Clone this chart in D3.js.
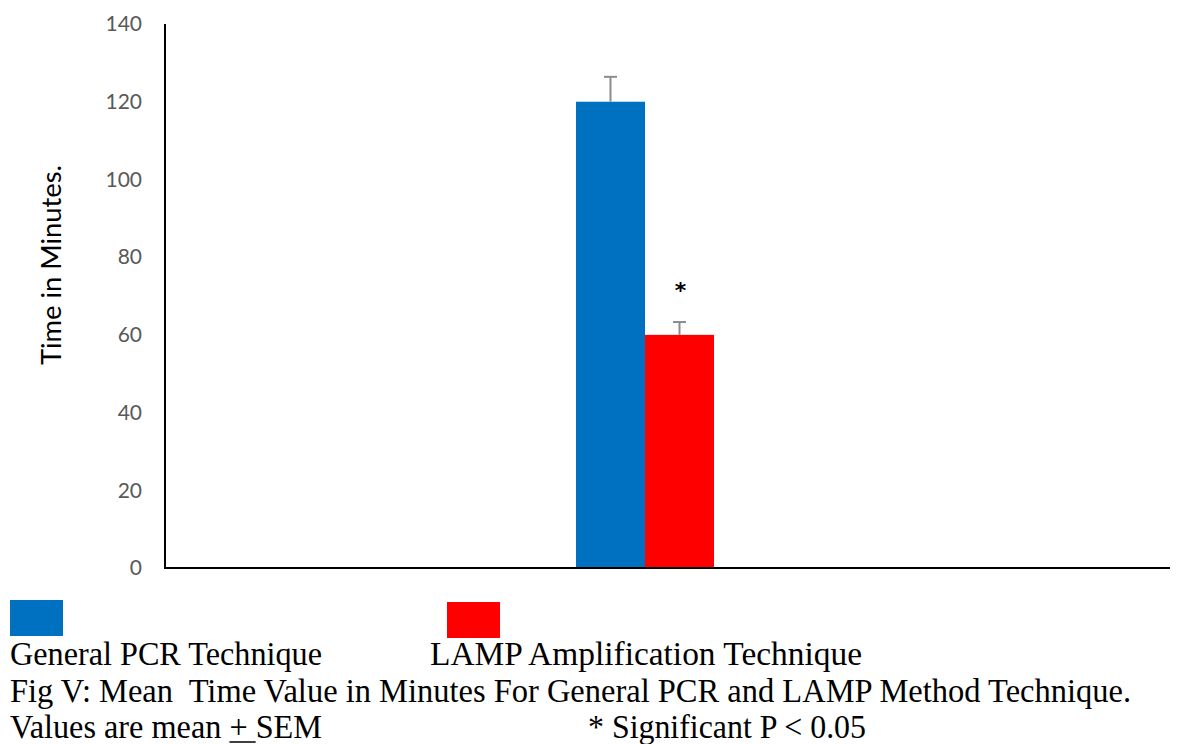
<!DOCTYPE html>
<html>
<head>
<meta charset="utf-8">
<script src="https://cdnjs.cloudflare.com/ajax/libs/d3/7.8.5/d3.min.js"></script>
<style>
  body { margin: 0; background: #fff; }
  .tick text { fill: #595959; }
</style>
</head>
<body>
<script>
// data
var categories = [""];
var series = ["General PCR Technique", "LAMP Amplification Technique"];
var means = [120, 60];
var sems = [6.4, 3.3];
var colors = ["#0070C0", "#FF0000"];
var yTicks = [0, 20, 40, 60, 80, 100, 120, 140];
var significant = [false, true];

var w = 1181,
    h = 744;

var svg = d3.select("body").append("svg")
    .attr("width", w)
    .attr("height", h);

var plotLeft = 165, plotTop = 24, plotBottom = 568, axisRight = 1170;

var y = d3.scaleLinear()
    .domain([0, 140])
    .range([plotBottom, plotTop]);

// one category band, bars grouped inside it
var x0 = d3.scaleBand()
    .domain(categories)
    .range([plotLeft, 1125])
    .paddingInner(0)
    .paddingOuter(2.978);

var x1 = d3.scaleBand()
    .domain(series)
    .range([0, x0.bandwidth()]);

// y tick labels, no tick marks
var yAxis = d3.axisLeft(y)
    .tickValues(yTicks)
    .tickSize(0)
    .tickPadding(23);

svg.append("g")
    .attr("transform", "translate(" + plotLeft + ",0)")
    .call(yAxis)
    .call(function(g) { g.select(".domain").remove(); })
    .selectAll("text")
    .style("font-family", "Lato, 'Open Sans', sans-serif")
    .style("font-size", "21px");

var bars = svg.append("g")
    .selectAll("g.cat")
    .data(categories)
    .enter()
    .append("g")
    .attr("class", "cat")
    .attr("transform", function(d) { return "translate(" + x0(d) + ",0)"; });

var rows = series.map(function(s, i) {
  return { name: s, mean: means[i], sem: sems[i], color: colors[i], sig: significant[i] };
});

bars.selectAll("rect")
    .data(rows)
    .enter()
    .append("rect")
    .attr("x", function(d) { return x1(d.name); })
    .attr("width", x1.bandwidth())
    .attr("y", function(d) { return y(d.mean); })
    .attr("height", function(d) { return y(0) - y(d.mean); })
    .attr("fill", function(d) { return d.color; });

// error bars (upper only)
var err = bars.selectAll("g.err")
    .data(rows)
    .enter()
    .append("g")
    .attr("class", "err")
    .attr("stroke", "#8c8c8c")
    .attr("stroke-width", 2);

err.append("line")
    .attr("x1", function(d) { return x1(d.name) + x1.bandwidth() / 2; })
    .attr("x2", function(d) { return x1(d.name) + x1.bandwidth() / 2; })
    .attr("y1", function(d) { return y(d.mean); })
    .attr("y2", function(d) { return y(d.mean + d.sem); });

err.append("line")
    .attr("x1", function(d) { return x1(d.name) + x1.bandwidth() / 2 - 6.5; })
    .attr("x2", function(d) { return x1(d.name) + x1.bandwidth() / 2 + 6.5; })
    .attr("y1", function(d) { return y(d.mean + d.sem); })
    .attr("y2", function(d) { return y(d.mean + d.sem); });

bars.selectAll("text.sig")
    .data(rows.filter(function(d) { return d.sig; }))
    .enter()
    .append("text")
    .attr("class", "sig")
    .attr("x", function(d) { return x1(d.name) + x1.bandwidth() / 2 + 1; })
    .attr("y", function(d) { return y(d.mean + d.sem) - 24; })
    .attr("text-anchor", "middle")
    .style("font-family", "'DejaVu Sans', sans-serif")
    .style("font-weight", "bold")
    .style("font-size", "22px")
    .text("*");

// axis lines
svg.append("line")
    .attr("x1", plotLeft).attr("x2", plotLeft)
    .attr("y1", plotTop).attr("y2", plotBottom)
    .attr("stroke", "#000").attr("stroke-width", 2);

svg.append("line")
    .attr("x1", plotLeft - 1).attr("x2", axisRight)
    .attr("y1", plotBottom).attr("y2", plotBottom)
    .attr("stroke", "#000").attr("stroke-width", 2);

// y axis title
svg.append("text")
    .attr("transform", "translate(61,265) rotate(-90)")
    .attr("text-anchor", "middle")
    .attr("textLength", 200)
    .attr("lengthAdjust", "spacingAndGlyphs")
    .style("font-family", "Lato, 'Open Sans', sans-serif")
    .style("font-size", "27px")
    .attr("fill", "#000")
    .text("Time in Minutes.");

// legend swatches
var legendX = [10, 447];
var legendY = [600, 602];
svg.selectAll("rect.leg")
    .data(rows)
    .enter()
    .append("rect")
    .attr("class", "leg")
    .attr("x", function(d, i) { return legendX[i]; })
    .attr("y", function(d, i) { return legendY[i]; })
    .attr("width", 53)
    .attr("height", 36)
    .attr("fill", function(d) { return d.color; });

var serif = "'Liberation Serif', 'Times New Roman', serif";

function caption(x, yy, len, txt) {
  return svg.append("text")
      .attr("x", x)
      .attr("y", yy)
      .attr("textLength", len)
      .attr("lengthAdjust", "spacingAndGlyphs")
      .style("font-family", serif)
      .style("font-size", "33px")
      .style("white-space", "pre")
      .attr("fill", "#000")
      .text(txt);
}

caption(10, 665, 312, series[0]);
caption(430, 665, 432, series[1]);
caption(10, 702, 1121, "Fig V: Mean  Time Value in Minutes For General PCR and LAMP Method Technique.");

var l3txt = "Values are mean + SEM";
var l3 = caption(10, 738, 312, l3txt);

// underline the "+" (mean ± SEM written as underlined plus)
var node = l3.node();
var pi = l3txt.indexOf("+");
var ux0 = node.getStartPositionOfChar(pi).x;
var ux1 = node.getEndPositionOfChar(pi + 1).x;
svg.append("line")
    .attr("x1", ux0).attr("x2", ux1)
    .attr("y1", 742).attr("y2", 742)
    .attr("stroke", "#000").attr("stroke-width", 1.5);

caption(588, 738, 278, "* Significant P < 0.05");
</script>
</body>
</html>
